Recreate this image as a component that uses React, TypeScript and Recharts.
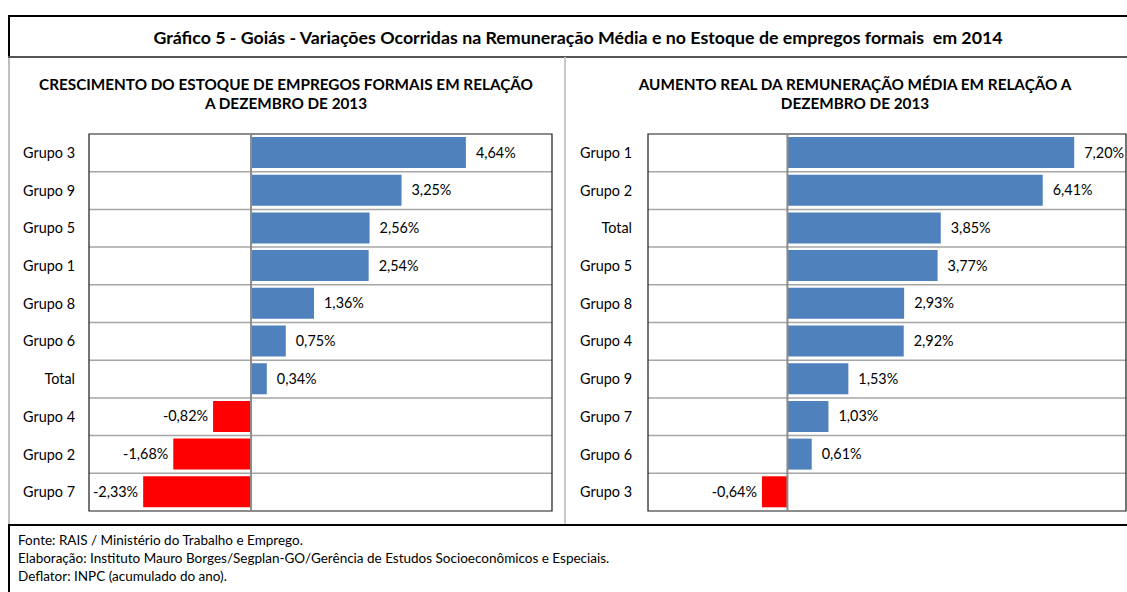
import React from 'react';
import {
  BarChart,
  Bar,
  XAxis,
  YAxis,
  CartesianGrid,
  ReferenceLine,
  ReferenceArea,
  LabelList,
  Cell,
} from 'recharts';

const FONT = 'Lato, "Noto Sans", sans-serif';

// Left panel: employment stock growth vs Dec 2013
const stockCategories = ['Grupo 3', 'Grupo 9', 'Grupo 5', 'Grupo 1', 'Grupo 8', 'Grupo 6', 'Total', 'Grupo 4', 'Grupo 2', 'Grupo 7'];
const stockValues = [4.64, 3.25, 2.56, 2.54, 1.36, 0.75, 0.34, -0.82, -1.68, -2.33];

// Right panel: real increase of average pay vs Dec 2013
const payCategories = ['Grupo 1', 'Grupo 2', 'Total', 'Grupo 5', 'Grupo 8', 'Grupo 4', 'Grupo 9', 'Grupo 7', 'Grupo 6', 'Grupo 3'];
const payValues = [7.2, 6.41, 3.85, 3.77, 2.93, 2.92, 1.53, 1.03, 0.61, -0.64];

const mainTitle = 'Gráfico 5 - Goiás - Variações Ocorridas na Remuneração Média e no Estoque de empregos formais  em 2014';
const leftTitle = ['CRESCIMENTO DO ESTOQUE DE EMPREGOS FORMAIS EM RELAÇÃO', 'A DEZEMBRO DE 2013'];
const rightTitle = ['AUMENTO REAL DA REMUNERAÇÃO MÉDIA EM RELAÇÃO A', 'DEZEMBRO DE 2013'];
const footerLines = [
  'Fonte: RAIS / Ministério do Trabalho e Emprego.',
  'Elaboração: Instituto Mauro Borges/Segplan-GO/Gerência de Estudos Socioeconômicos e Especiais.',
  'Deflator: INPC (acumulado do ano).',
];

const BLUE = '#4f81bd';
const RED = '#ff0000';

const fmt = (v: number) => v.toFixed(2).replace('.', ',') + '%';

const ValueLabel = (props: any) => {
  const { x, y, width, height, value } = props;
  const left = Math.min(x, x + width);
  const right = Math.max(x, x + width);
  const cy = y + height / 2;
  const neg = value < 0;
  return (
    <text
      x={neg ? left - 5 : right + 10}
      y={cy}
      dy="0.35em"
      textAnchor={neg ? 'end' : 'start'}
      fontSize={14.4}
      fontFamily={FONT}
      fill="#000"
    >
      {fmt(value)}
    </text>
  );
};

interface PanelProps {
  categories: string[];
  values: number[];
  domain: [number, number];
  width: number;
  axisWidth: number;
  tickGap: number;
  rightPad: number;
}

const Panel: React.FC<PanelProps> = ({ categories, values, domain, width, axisWidth, tickGap, rightPad }) => {
  const data = categories.map((name, i) => ({ name, value: values[i] }));
  const n = data.length;
  return (
    <BarChart
      width={width}
      height={525}
      data={data}
      layout="vertical"
      margin={{ top: 134, right: rightPad, bottom: 14, left: 0 }}
      barSize={31}
    >
      <CartesianGrid
        vertical={false}
        stroke="#a6a6a6"
        strokeWidth={1.5}
        horizontalCoordinatesGenerator={({ offset }: any) =>
          Array.from({ length: n - 1 }, (_, i) => offset.top + ((i + 1) * offset.height) / n)
        }
      />
      <XAxis type="number" domain={domain} hide allowDataOverflow />
      <YAxis
        type="category"
        dataKey="name"
        width={axisWidth}
        axisLine={false}
        tickLine={false}
        tickSize={0}
        tickMargin={tickGap}
        tick={{ fontSize: 14.4, fontFamily: FONT, fill: '#000' }}
        interval={0}
      />
      <Bar dataKey="value" isAnimationActive={false}>
        {data.map((d, i) => (
          <Cell key={`c-${i}`} fill={d.value < 0 ? RED : BLUE} />
        ))}
        <LabelList dataKey="value" content={ValueLabel} />
      </Bar>
      <ReferenceLine x={0} stroke="#8c8c8c" strokeWidth={2} />
      <ReferenceArea x1={domain[0]} x2={domain[1]} fill="none" fillOpacity={0} stroke="#1a1a1a" strokeWidth={1.2} />
    </BarChart>
  );
};

const line = (style: React.CSSProperties) => <div style={{ position: 'absolute', ...style }} />;

export default function App() {
  return (
    <div style={{ position: 'absolute', left: 0, top: 0, width: 1127, height: 592, background: '#fff', overflow: 'hidden', fontFamily: FONT }}>
      {/* frame */}
      {line({ left: 8, top: 15, width: 1200, height: 1.5, background: '#000' })}
      {line({ left: 8, top: 15, width: 1.5, height: 42, background: '#000' })}
      {line({ left: 8, top: 57, width: 1.5, height: 468, background: '#bfbfbf' })}
      {line({ left: 8, top: 525, width: 1.5, height: 80, background: '#000' })}
      {line({ left: 8, top: 56, width: 1200, height: 1.5, background: '#555' })}
      {line({ left: 564, top: 57, width: 1.5, height: 468, background: '#c8c8c8' })}
      {line({ left: 8, top: 524, width: 1200, height: 2, background: '#000' })}

      <div style={{ position: 'absolute', left: 8, width: 1140, top: 26, textAlign: 'center', fontSize: 17.8, fontWeight: 700, lineHeight: '22px', whiteSpace: 'pre' }}>
        {mainTitle}
      </div>

      <div style={{ position: 'absolute', left: 8, width: 556, top: 75, textAlign: 'center', fontSize: 15.3, fontWeight: 700, lineHeight: '19px' }}>
        {leftTitle.map((t) => <div key={t}>{t}</div>)}
      </div>
      <div style={{ position: 'absolute', left: 566, width: 578, top: 75, textAlign: 'center', fontSize: 15.3, fontWeight: 700, lineHeight: '19px' }}>
        {rightTitle.map((t) => <div key={t}>{t}</div>)}
      </div>

      <div style={{ position: 'absolute', left: 0, top: 0 }}>
        <Panel categories={stockCategories} values={stockValues} domain={[-3.5, 6.5]} width={564} axisWidth={89} tickGap={14} rightPad={12} />
      </div>
      <div style={{ position: 'absolute', left: 564, top: 0 }}>
        <Panel categories={payCategories} values={payValues} domain={[-3.5, 8.5]} width={563} axisWidth={84} tickGap={16} rightPad={1} />
      </div>

      <div style={{ position: 'absolute', left: 18, top: 531, fontSize: 13.5, lineHeight: '18px' }}>
        {footerLines.map((t) => <div key={t}>{t}</div>)}
      </div>
    </div>
  );
}
